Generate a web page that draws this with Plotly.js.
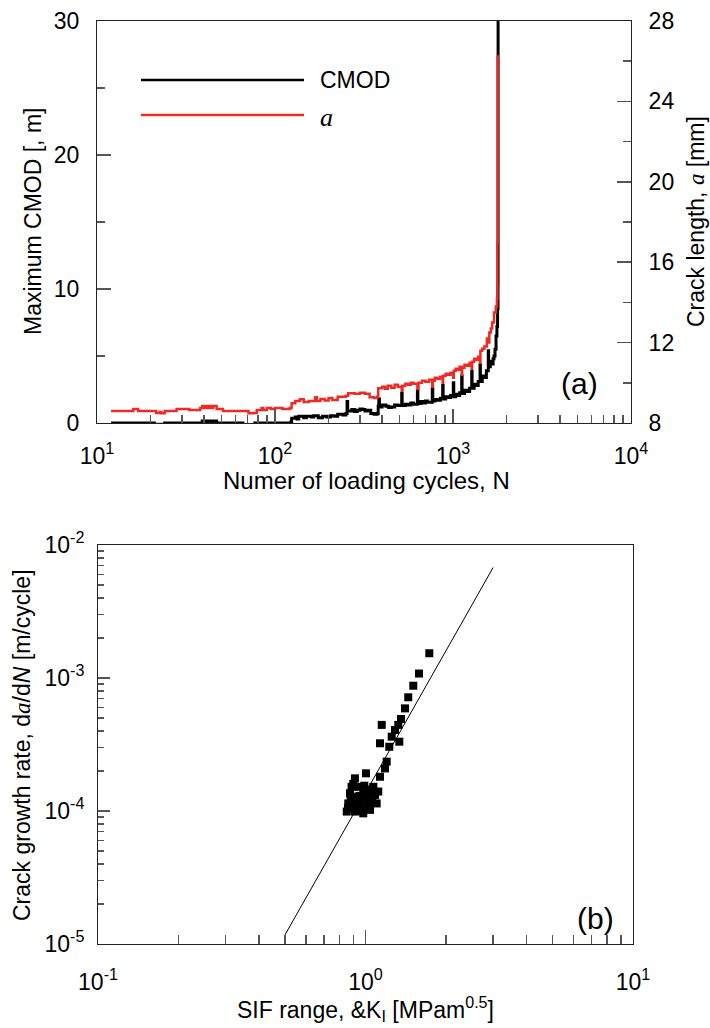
<!DOCTYPE html>
<html>
<head>
<meta charset="utf-8">
<script src="https://cdn.plot.ly/plotly-3.0.1.min.js"></script>
<style>html,body{margin:0;padding:0;background:#fff}#chart{width:710px;height:1028px}</style>
</head>
<body>
<div id="chart"></div>
<script>
// ---------- (a) Max CMOD and crack length vs cycles ----------
const cyclesCMOD = [12,20,21,22,23,24,38,39,41,42,44,45,47,65,66,70,76,77,120,123,124,130,133,136,145,150,160,165,175,185,195,205,215,225,240,250,254,256,270,280,290,300,310,320,330,345,360,375,380,383,386,400,420,435,450,470,490,515,518,540,560,580,600,631,635,660,680,700,720,765,770,790,820,850,875,880,910,940,970,1004,1010,1035,1060,1090,1119,1125,1160,1200,1240,1274,1280,1315,1350,1385,1419,1425,1460,1500,1540,1578,1585,1620,1650,1680,1700,1722,1745,1765,1780,1790,1792];
const cmod = [0,0,-0.2,-0.1,-0.25,0,0,0.15,0.05,0.15,0.05,0.15,0,0,-0.2,-0.25,-0.2,0,0,0.1,0.35,0.45,0.3,0.5,0.4,0.5,0.45,0.55,0.4,0.5,0.45,0.55,0.5,0.65,0.6,0.7,1.6,0.9,1.0,0.85,0.95,1.05,1.0,0.9,0.95,0.7,0.65,0.7,1.25,1.8,1.2,1.35,1.25,1.15,1.2,1.35,1.3,2.2,1.3,1.4,1.35,1.5,1.4,2.4,1.45,1.6,1.5,1.65,1.55,2.6,1.65,1.75,1.7,1.85,2.8,1.8,1.95,1.9,2.05,3.0,1.95,2.15,2.05,2.25,3.5,2.2,2.45,2.35,2.6,3.85,2.6,2.9,2.8,3.1,4.35,3.1,3.5,3.4,3.9,5.4,4.2,4.6,4.4,4.8,5.0,5.5,6.5,7.2,8.5,10.4,32];

const cyclesA = [12,15,16,17,21,21.5,22.5,23,24,28,33,38,39,40,41,42,43,44,45,47,51,70,71,76,79,84,86,90,95,100,110,121,124,130,138,145,155,168,172,180,190,200,210,225,240,250,258,280,300,320,340,360,375,380,400,415,430,450,470,490,515,520,540,560,580,600,631,640,670,700,735,765,770,790,815,845,875,880,910,940,970,1004,1010,1035,1060,1090,1119,1125,1160,1200,1240,1274,1280,1315,1350,1385,1419,1425,1460,1500,1550,1578,1600,1630,1660,1700,1740,1765,1775,1782];
const crackA = [8.6,8.6,8.7,8.6,8.6,8.5,8.55,8.48,8.6,8.7,8.65,8.75,8.85,8.75,8.85,8.75,8.85,8.75,8.85,8.7,8.6,8.6,8.48,8.5,8.65,8.75,8.65,8.75,8.7,8.75,8.7,8.75,8.98,9.1,9.18,9.05,9.1,9.28,9.1,9.2,9.12,9.25,9.15,9.31,9.3,9.35,9.48,9.45,9.5,9.45,9.28,9.25,9.3,9.73,9.8,9.7,9.85,9.75,9.9,9.8,9.6,9.85,9.95,9.9,10.0,9.95,9.7,10.0,10.1,10.05,10.15,9.8,10.1,10.25,10.2,10.3,10.0,10.35,10.45,10.4,10.5,10.25,10.6,10.7,10.65,10.8,10.4,10.75,10.9,10.85,11.0,10.7,11.05,11.2,11.15,11.3,11.0,11.6,11.7,11.8,12.2,12.0,12.5,12.7,13.0,13.5,13.8,14.2,17,26.3];

// ---------- (b) Crack growth rate vs SIF range ----------
const sifRange = [1.732,1.585,1.509,1.445,1.405,1.357,1.326,1.289,1.253,1.15,1.338,1.133,1.227,1.2,1.183,1.133,1.004,0.913,0.887,1.07,0.981,0.927,0.862,0.851,0.913,0.981,1.04,1.101,1.085,0.954,1.024,0.875,0.94,1.04,1.01,0.9,1.116,0.86,0.9,0.95,1.0,1.05,0.97,0.92,0.88,1.02,0.9,0.99,1.06];
const growthRate = [1.535e-3,1.08e-3,8.75e-4,7.16e-4,5.91e-4,4.92e-4,4.44e-4,4.06e-4,3.62e-4,4.44e-4,3.32e-4,3.23e-4,3.04e-4,2.35e-4,2.09e-4,1.81e-4,1.92e-4,1.76e-4,1.52e-4,1.52e-4,1.36e-4,1.28e-4,1.14e-4,9.9e-5,9.9e-5,9.6e-5,1.02e-4,1.14e-4,1.32e-4,1.14e-4,1.21e-4,1.36e-4,1.52e-4,1.40e-4,1.08e-4,1.08e-4,1.40e-4,1.05e-4,1.2e-4,1.3e-4,1.25e-4,1.15e-4,1.0e-4,1.1e-4,1.25e-4,1.45e-4,1.6e-4,1.55e-4,1.3e-4];
const fitSIF = [0.50,0.60,0.70,0.80,0.90,1.00,1.20,1.40,1.60,1.80,2.00,2.40,2.70,3.00];
const fitRate = [1.17e-5,2.23e-5,3.86e-5,6.2e-5,9.4e-5,1.37e-4,2.62e-4,4.52e-4,7.26e-4,1.10e-3,1.60e-3,3.07e-3,4.66e-3,6.77e-3];

// ---------- tick labels ----------
const topXTickVals = [10,100,1000,10000];
const topXTickText = ['10<sup>1</sup>','10<sup>2</sup>','10<sup>3</sup>','10<sup>4</sup>'];
const botXTickVals = [0.1,1,10];
const botXTickText = ['10<sup>-1</sup>','10<sup>0</sup>','10<sup>1</sup>'];
const botYTickVals = [1e-5,1e-4,1e-3,1e-2];
const botYTickText = ['10<sup>-5</sup>','10<sup>-4</sup>','10<sup>-3</sup>','10<sup>-2</sup>'];

function logMinors(lo, hi){ const v=[]; for(let d=lo; d<hi; d++){ for(let k=2;k<=9;k++){ v.push(k*Math.pow(10,d)); } } return v; }

const W=710, H=1028;
const X = px => px/W;
const Y = py => 1-py/H;
const FONT = 'Liberation Sans, Arial, sans-serif';
const SERIF = 'Liberation Serif, Times New Roman, serif';
const TICKC = '#555';
const LINEC = '#222';

const traces = [
  {x: cyclesCMOD, y: cmod, type:'scatter', mode:'lines', line:{color:'#000', width:3, shape:'hv'}, xaxis:'x', yaxis:'y', name:'CMOD', hoverinfo:'skip'},
  {x: cyclesA, y: crackA, type:'scatter', mode:'lines', line:{color:'#ee2a24', width:2.5, shape:'hv'}, xaxis:'x', yaxis:'y2', name:'a', hoverinfo:'skip'},
  {x: fitSIF, y: fitRate, type:'scatter', mode:'lines', line:{color:'#000', width:1}, xaxis:'x2', yaxis:'y3', hoverinfo:'skip'},
  {x: sifRange, y: growthRate, type:'scatter', mode:'markers', marker:{symbol:'square', size:8, color:'#000'}, xaxis:'x2', yaxis:'y3', hoverinfo:'skip'}
];

const baseAxis = {showgrid:false, zeroline:false, showline:true, linecolor:LINEC, linewidth:1, ticks:'inside', tickcolor:TICKC, tickwidth:1.5, tickfont:{family:FONT, size:23, color:'#000'}, automargin:false};

const layout = {
  width:W, height:H, margin:{l:0,r:0,t:0,b:0}, paper_bgcolor:'#fff', plot_bgcolor:'#fff', showlegend:false,
  font:{family:FONT, color:'#000'},
  xaxis: Object.assign({}, baseAxis, {type:'log', range:[1,4], domain:[X(97),X(631)], anchor:'y', mirror:true, tickvals:topXTickVals, ticktext:topXTickText, ticklen:14, ticklabelstandoff:12,
    minor:{tickvals:logMinors(1,4), ticks:'inside', ticklen:8, tickcolor:TICKC, tickwidth:1.5, showgrid:false}}),
  yaxis: Object.assign({}, baseAxis, {range:[0,30], domain:[Y(423),Y(21)], anchor:'x', mirror:true, dtick:10, tick0:0, ticklen:14, ticklabelstandoff:12,
    minor:{dtick:5, ticks:'inside', ticklen:8, tickcolor:TICKC, tickwidth:1.5, showgrid:false}}),
  yaxis2: Object.assign({}, baseAxis, {range:[8,28], overlaying:'y', side:'right', anchor:'x', dtick:4, tick0:8, ticklen:14, ticklabelstandoff:12,
    minor:{dtick:2, ticks:'inside', ticklen:8, tickcolor:TICKC, tickwidth:1.5, showgrid:false}}),
  xaxis2: Object.assign({}, baseAxis, {type:'log', range:[-1,1], domain:[X(98),X(633)], anchor:'y3', mirror:true, tickvals:botXTickVals, ticktext:botXTickText, ticklen:14, ticklabelstandoff:17,
    minor:{tickvals:logMinors(-1,1), ticks:'inside', ticklen:9, tickcolor:TICKC, tickwidth:1.5, showgrid:false}}),
  yaxis3: Object.assign({}, baseAxis, {type:'log', range:[-5,-2], domain:[Y(944),Y(545)], anchor:'x2', mirror:true, tickvals:botYTickVals, ticktext:botYTickText, ticklen:12, ticklabelstandoff:8,
    minor:{tickvals:logMinors(-5,-2), ticks:'inside', ticklen:6, tickcolor:TICKC, tickwidth:1.5, showgrid:false}}),
  shapes: [
    {type:'line', xref:'paper', yref:'paper', x0:X(141), x1:X(304), y0:Y(80), y1:Y(80), line:{color:'#000', width:2.5}},
    {type:'line', xref:'paper', yref:'paper', x0:X(141), x1:X(304), y0:Y(115), y1:Y(115), line:{color:'#ee2a24', width:2.5}}
  ],
  annotations: [
    {xref:'paper', yref:'paper', x:X(318), y:Y(80), xanchor:'left', yanchor:'middle', showarrow:false, text:'CMOD', font:{family:FONT, size:23}},
    {xref:'paper', yref:'paper', x:X(318), y:Y(117), xanchor:'left', yanchor:'middle', showarrow:false, text:'<i>a</i>', font:{family:SERIF, size:26}},
    {xref:'paper', yref:'paper', x:X(579), y:Y(383), xanchor:'center', yanchor:'middle', showarrow:false, text:'(a)', font:{family:FONT, size:30}},
    {xref:'paper', yref:'paper', x:X(595), y:Y(918), xanchor:'center', yanchor:'middle', showarrow:false, text:'(b)', font:{family:FONT, size:30}},
    {xref:'paper', yref:'paper', x:X(366), y:Y(480), xanchor:'center', yanchor:'middle', showarrow:false, text:'Numer of loading cycles, N', font:{family:FONT, size:24}},
    {xref:'paper', yref:'paper', x:X(33), y:Y(222), xanchor:'center', yanchor:'middle', showarrow:false, textangle:-90, text:'Maximum CMOD [, m]', font:{family:FONT, size:23}},
    {xref:'paper', yref:'paper', x:X(696), y:Y(222), xanchor:'center', yanchor:'middle', showarrow:false, textangle:-90, text:'Crack length, <span style="font-family:Liberation Serif"><i>a</i></span> [mm]', font:{family:FONT, size:23}},
    {xref:'paper', yref:'paper', x:X(365), y:Y(1009), xanchor:'center', yanchor:'middle', showarrow:false, text:'SIF range, &amp;K<sub>I</sub> [MPam<sup>0.5</sup>]', font:{family:FONT, size:23}},
    {xref:'paper', yref:'paper', x:X(22), y:Y(745), xanchor:'center', yanchor:'middle', showarrow:false, textangle:-90, text:'Crack growth rate, d<span style="font-family:Liberation Serif"><i>a</i></span>/d<i>N</i> [m/cycle]', font:{family:FONT, size:23}}
  ]
};

Plotly.newPlot('chart', traces, layout, {staticPlot:true, displayModeBar:false});
</script>
</body>
</html>
